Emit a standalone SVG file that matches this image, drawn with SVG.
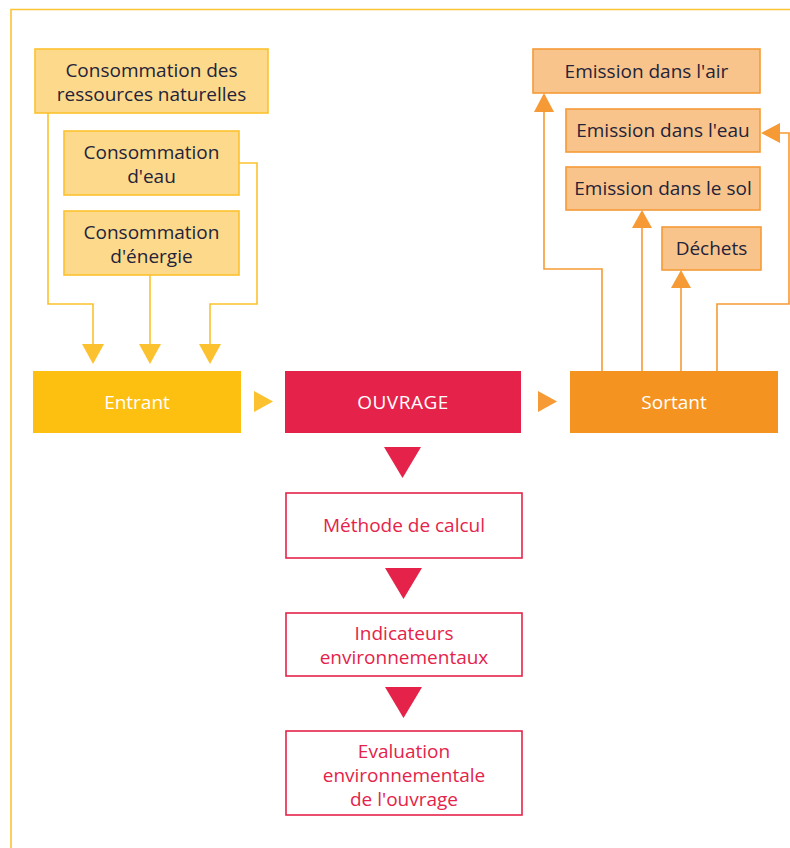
<svg xmlns="http://www.w3.org/2000/svg" width="790" height="848" viewBox="0 0 790 848">
<defs>
<style>
.frame{fill:none;stroke:#FCC433;stroke-width:1.6}
.in{fill:#FDD98B;stroke:#FCC12E;stroke-width:1.6}
.out{fill:#F9C48B;stroke:#F59A36;stroke-width:1.6}
.cy{fill:none;stroke:#FCC12E;stroke-width:1.6}
.co{fill:none;stroke:#F69A35;stroke-width:1.6}
.ay{fill:#FCC12E}
.ao{fill:#F69A35}
.ar{fill:#E5234A}
.res{fill:#fff;stroke:#E5234A;stroke-width:1.6}
.t{font-family:"Open Sans","Liberation Sans",sans-serif;font-size:19px;text-anchor:middle}
.dk{fill:#23233A}
.wh{fill:#fff}
.rd{fill:#E5234A}
</style>
</defs>
<rect x="0" y="0" width="790" height="848" fill="#fff"/>
<path class="frame" d="M11,848 V9.5 H790"/>

<g id="connectors">
<path class="cy" d="M48,113 V304 H93 V345"/>
<path class="cy" d="M150,275 V345"/>
<path class="cy" d="M239,163 H257 V304 H210 V345"/>
<polygon class="ay" points="82,344 104,344 93,364"/>
<polygon class="ay" points="139,344 161,344 150,364"/>
<polygon class="ay" points="199,344 221,344 210,364"/>
<polygon class="ay" points="254,391 254,412 273,401.5"/>
<polygon class="ao" points="538,391 538,412 557,401.5"/>
<path class="co" d="M602,371 V269 H544 V110"/>
<polygon class="ao" points="534,112 554,112 544,93"/>
<path class="co" d="M642,371 V226"/>
<polygon class="ao" points="632,228 652,228 642,210"/>
<path class="co" d="M681,371 V286"/>
<polygon class="ao" points="671,288 691,288 681,270"/>
<path class="co" d="M717,371 V304 H789 V133 H778"/>
<polygon class="ao" points="780,123 780,143 761,133"/>
<polygon class="ar" points="384,447 421,447 402.5,478"/>
<polygon class="ar" points="385,568 422,568 403.5,599"/>
<polygon class="ar" points="385,687 422,687 403.5,718"/>
</g>

<g id="n-ressources">
<rect class="in" x="35" y="49" width="233" height="64"/>
<text class="t dk" x="151.5" y="77">Consommation des</text>
<text class="t dk" x="151.5" y="101">ressources naturelles</text>
</g>
<g id="n-eau">
<rect class="in" x="64" y="131" width="175" height="64"/>
<text class="t dk" x="151.5" y="159">Consommation</text>
<text class="t dk" x="151.5" y="183">d'eau</text>
</g>
<g id="n-energie">
<rect class="in" x="64" y="211" width="175" height="64"/>
<text class="t dk" x="151.5" y="239">Consommation</text>
<text class="t dk" x="151.5" y="263">d'énergie</text>
</g>

<g id="n-air">
<rect class="out" x="533" y="49" width="227" height="44"/>
<text class="t dk" x="646.5" y="78">Emission dans l'air</text>
</g>
<g id="n-eau-out">
<rect class="out" x="566" y="109" width="194" height="43"/>
<text class="t dk" x="663" y="137">Emission dans l'eau</text>
</g>
<g id="n-sol">
<rect class="out" x="566" y="167" width="194" height="43"/>
<text class="t dk" x="663" y="195">Emission dans le sol</text>
</g>
<g id="n-dechets">
<rect class="out" x="662" y="227" width="99" height="43"/>
<text class="t dk" x="711.5" y="255">Déchets</text>
</g>

<g id="n-entrant">
<rect x="33" y="371" width="208" height="62" fill="#FDC010"/>
<text class="t wh" x="137" y="409">Entrant</text>
</g>
<g id="n-ouvrage">
<rect x="285" y="371" width="236" height="62" fill="#E5234A"/>
<text class="t wh" x="403" y="409" letter-spacing="0.5">OUVRAGE</text>
</g>
<g id="n-sortant">
<rect x="570" y="371" width="208" height="62" fill="#F59320"/>
<text class="t wh" x="674" y="409">Sortant</text>
</g>

<g id="n-methode">
<rect class="res" x="286" y="493" width="236" height="65"/>
<text class="t rd" x="404" y="532">Méthode de calcul</text>
</g>
<g id="n-indicateurs">
<rect class="res" x="286" y="613" width="236" height="63"/>
<text class="t rd" x="404" y="640">Indicateurs</text>
<text class="t rd" x="404" y="664">environnementaux</text>
</g>
<g id="n-evaluation">
<rect class="res" x="286" y="731" width="236" height="84"/>
<text class="t rd" x="404" y="758">Evaluation</text>
<text class="t rd" x="404" y="782">environnementale</text>
<text class="t rd" x="404" y="806">de l'ouvrage</text>
</g>
</svg>
